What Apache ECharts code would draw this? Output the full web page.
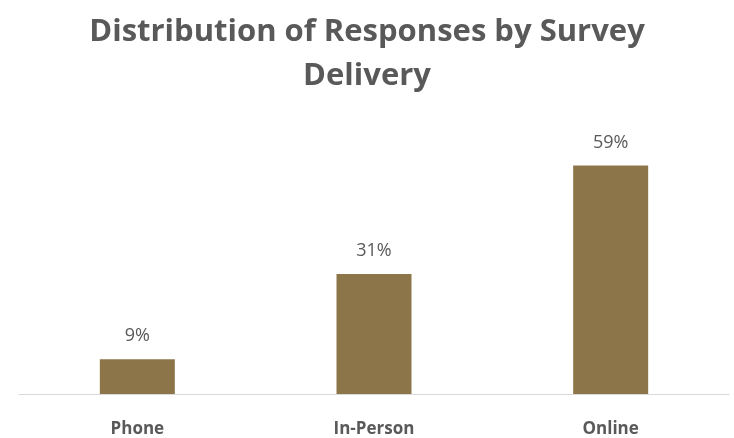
<!DOCTYPE html>
<html><head><meta charset="utf-8">
<script src="https://cdn.jsdelivr.net/npm/echarts@6/dist/echarts.min.js"></script>
<style>html,body{margin:0;padding:0;background:#fff}#c{width:734px;height:438px}</style>
</head><body><div id="c"></div>
<script>
var categories = ['Phone', 'In-Person', 'Online'];
var values = [9, 31, 59];
var titleText = 'Distribution of Responses by Survey\nDelivery';

var chart = echarts.init(document.getElementById('c'), null, {renderer: 'canvas'});
chart.setOption({
  animation: false,
  backgroundColor: '#ffffff',
  title: {
    text: titleText,
    left: 'center',
    top: 5,
    textStyle: {fontFamily: 'Open Sans', fontWeight: 'bold', fontSize: 31, color: '#595959', lineHeight: 44}
  },
  grid: {left: 19, right: 5, top: 123, bottom: 40},
  xAxis: {
    type: 'category',
    data: categories,
    axisLine: {lineStyle: {color: '#d9d9d9', width: 1}},
    axisTick: {show: false},
    axisLabel: {fontFamily: 'Open Sans', fontWeight: 'bold', fontSize: 17, color: '#595959', margin: 27}
  },
  yAxis: {type: 'value', min: 0, max: 70, show: false, splitLine: {show: false}},
  series: [{
    type: 'bar',
    data: values,
    barWidth: 75,
    itemStyle: {color: '#8C7649'},
    label: {show: true, position: 'top', distance: 14, formatter: '{c}%', fontFamily: 'Open Sans', fontSize: 18, color: '#595959'}
  }]
});
</script></body></html>
